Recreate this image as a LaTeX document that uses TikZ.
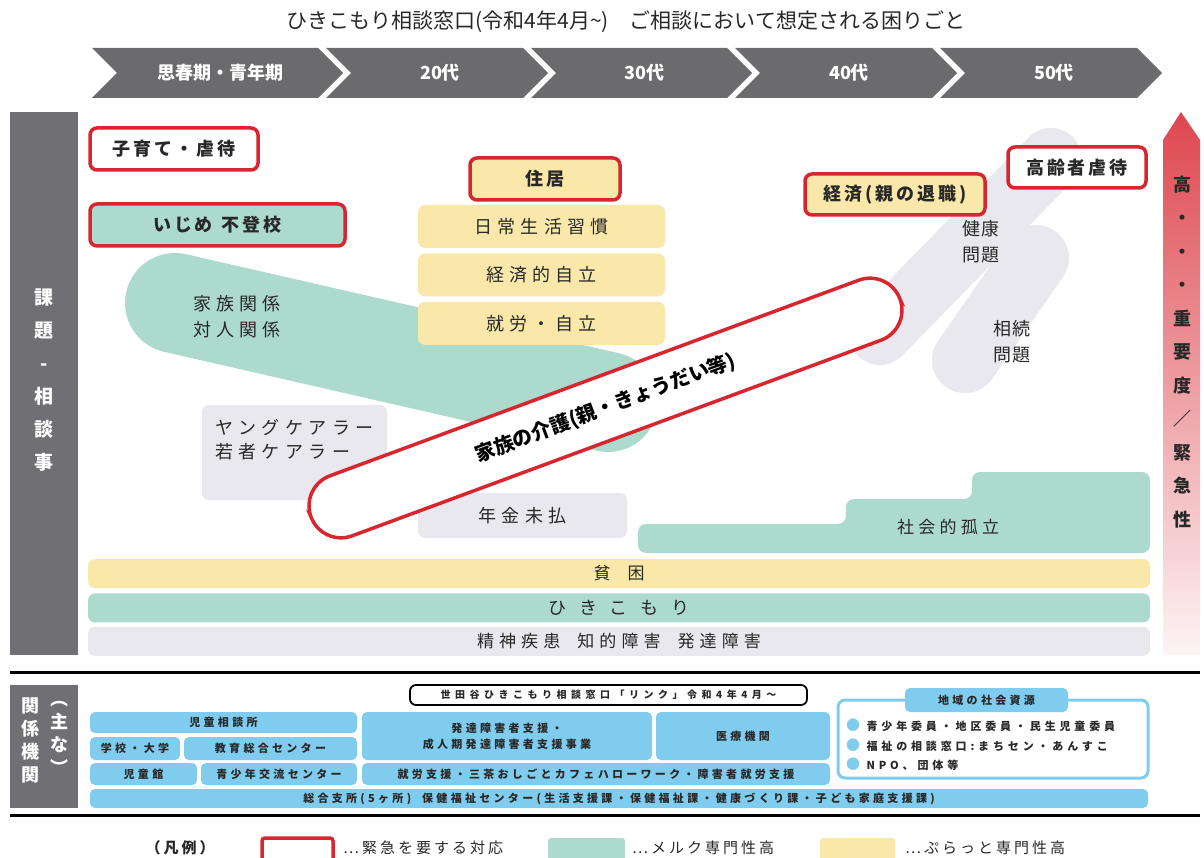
\documentclass[tikz,border=0pt]{standalone}
\usepackage{fontspec}
\setmainfont{Noto Sans CJK JP}
\usetikzlibrary{positioning}

\definecolor{chevgray}{RGB}{107,107,110}
\definecolor{bargray}{RGB}{112,112,116}
\definecolor{mint}{RGB}{172,218,204}
\definecolor{cream}{RGB}{249,232,170}
\definecolor{paleg}{RGB}{232,232,238}
\definecolor{alert}{RGB}{216,38,48}
\definecolor{sky}{RGB}{128,204,238}
\definecolor{ink}{RGB}{40,40,40}

\begin{document}
\begin{tikzpicture}[x=1pt,y=-1pt]
\tikzset{
  lbl/.style={inner sep=0pt,text=ink,font=\fontsize{18}{26}\selectfont\addfontfeature{LetterSpace=28}},
  tile/.style={rounded corners=7pt,inner sep=0pt,text=ink,font=\fontsize{18}{20}\selectfont\addfontfeature{LetterSpace=28}},
  alertbox/.style={tile,draw=alert,line width=3.5pt,font=\bfseries\fontsize{18}{20}\selectfont\addfontfeature{LetterSpace=16}},
  band/.style={rounded corners=7pt,inner sep=0pt,minimum width=1062pt,minimum height=29pt,text=ink,font=\fontsize{17}{20}\selectfont\addfontfeature{LetterSpace=30}},
  org/.style={fill=sky,rounded corners=5pt,inner sep=0pt,text=ink,font=\bfseries\fontsize{11}{16}\selectfont\addfontfeature{LetterSpace=30}},
  vtext/.style={inner sep=0pt,text=white,align=center,font=\bfseries\fontsize{19}{33}\selectfont},
  swatch/.style={minimum width=74pt,minimum height=24pt,rounded corners=3pt,inner sep=0pt}
}
\useasboundingbox (0,0) rectangle (1204,858);
\fill[white] (0,0) rectangle (1204,858);

% title and age steps
\node[inner sep=0pt,text=ink,font=\fontsize{21}{23}\selectfont] (title) at (626,22) {ひきこもり相談窓口(令和4年4月\textasciitilde)\quad ご相談において想定される困りごと};
\foreach \l/\r/\lab [count=\i] in {92/343/思春期・青年期,326/548/20代,531/752/30代,735/957/40代,940/1162/50代}{
  \fill[chevgray] (\l,48) -- (\r-25,48) -- (\r,73) -- (\r-25,98) -- (\l,98) -- (\l+25,73) -- cycle;
  \node[text=white,inner sep=0pt,font=\bfseries\fontsize{18}{20}\selectfont] (age\i) at ({(\l+\r)/2+3},73) {\lab};
}

% side bars
\fill[bargray] (10,112) rectangle (78,655);
\node[vtext] (issues) at (44,380) {課\\題\\-\\相\\談\\事};
\shade[top color=alert!85, bottom color=alert!5] (1163,140) -- (1181,112) -- (1200,140) -- (1200,655) -- (1163,655) -- cycle;
\node[inner sep=0pt,text=ink,align=center,font=\bfseries\fontsize{18}{33.5}\selectfont] (urgency) at (1182,352) {高\\・\\・\\・\\重\\要\\度\\／\\緊\\急\\性};

% diagonal bands
\coordinate (hl_a) at (880,334);
\coordinate (hl_b) at (1051,159);
\draw[paleg,line width=62pt,line cap=round] (hl_a) -- (hl_b);
\coordinate (ih_a) at (965,360);
\coordinate (ih_b) at (1036,258);
\draw[paleg,line width=66pt,line cap=round] (ih_a) -- (ih_b);
\node[lbl,align=center,font=\fontsize{18}{26}\selectfont\addfontfeature{LetterSpace=10}] (health) at (981,242) {健康\\問題};
\node[lbl,align=center,font=\fontsize{18}{26}\selectfont\addfontfeature{LetterSpace=10}] (inherit) at (1012,342) {相続\\問題};

\coordinate (fam_a) at (175,303);
\coordinate (fam_b) at (608,402);
\draw[mint,line width=100pt,line cap=round] (fam_a) -- (fam_b);
\node[lbl,align=left] (family) at (237,317) {家族関係\\対人関係};

% living
\node[tile,fill=cream,minimum width=247pt,minimum height=43pt] (habit) at (541.5,226.5) {日常生活習慣};
\node[tile,fill=cream,minimum width=247pt,minimum height=43pt,below=5pt of habit] (selfecon) {経済的自立};
\node[tile,fill=cream,minimum width=247pt,minimum height=43pt,below=5pt of selfecon] (work) {就労・自立};

\node[tile,fill=paleg,minimum width=185pt,minimum height=95pt] (youngcare) at (294.5,452.5) {};
\node[lbl,anchor=west,align=left,font=\fontsize{18}{24}\selectfont\addfontfeature{LetterSpace=30}] (youngtxt) at (215,440) {ヤングケアラー\\若者ケアラー};

\fill[mint,rounded corners=8pt] (638,553) -- (638,524) -- (846,524) -- (846,499) -- (972,499) -- (972,472) -- (1150,472) -- (1150,553) -- cycle;
\node[lbl,font=\fontsize{17}{20}\selectfont\addfontfeature{LetterSpace=25}] (isolation) at (948,527) {社会的孤立};

\node[tile,fill=paleg,minimum width=209pt,minimum height=45pt] (pension) at (522.5,515.5) {年金未払};

\node[draw=alert,fill=white,line width=3.5pt,rounded corners=32pt,minimum width=628pt,minimum height=64pt,rotate=20.3,inner sep=0pt,text=black,font=\bfseries\fontsize{20}{22}\selectfont] (carefam) at (605.5,408) {家族の介護(親・きょうだい等)};

% base bands
\node[band,fill=cream] (poverty) at (619,573.5) {貧\quad 困};
\node[band,fill=mint,below=5pt of poverty,font=\fontsize{18}{20}\selectfont\addfontfeature{LetterSpace=70}] (hikikomori) {ひきこもり};
\node[band,fill=paleg,below=4pt of hikikomori] (disorder) {精神疾患\quad 知的障害\quad 発達障害};

% urgent items
\node[alertbox,fill=white,minimum width=168pt,minimum height=42pt] (childcare) at (174,149) {子育て・虐待};
\node[alertbox,fill=mint,minimum width=255pt,minimum height=42pt] (bullying) at (217.5,225) {いじめ\enspace 不登校};
\node[alertbox,fill=cream,minimum width=150pt,minimum height=42pt] (housing) at (545,179) {住居};
\node[alertbox,fill=cream,minimum width=180pt,minimum height=41pt] (parentret) at (895,194.5) {経済(親の退職)};
\node[alertbox,fill=white,minimum width=138pt,minimum height=41pt] (elderabuse) at (1077,167.5) {高齢者虐待};

% related organisations
\draw[line width=3pt] (10,672) -- (1200,672);
\draw[line width=3pt] (10,815) -- (1200,815);
\fill[bargray] (10,685) rectangle (78,808);
\node[vtext,font=\bfseries\fontsize{18}{23}\selectfont] (orgs) at (30,740) {関\\係\\機\\関};
\node[vtext,font=\bfseries\fontsize{18}{23}\selectfont] (mainly) at (59,738) {︵\\主\\な\\︶};

\node[draw=black,line width=1.8pt,rounded corners=6pt,minimum width=397pt,minimum height=20pt,inner sep=0pt,text=ink,font=\bfseries\fontsize{10}{12}\selectfont\addfontfeature{LetterSpace=45}] (link) at (608.5,695) {世田谷ひきこもり相談窓口「リンク」令和4年4月〜};
\node[org,minimum width=267pt,minimum height=21pt] (jisou) at (223.5,722.5) {児童相談所};
\node[org,minimum width=90pt,minimum height=23pt] (school) at (135,748.5) {学校・大学};
\node[org,minimum width=173pt,minimum height=23pt] (educ) at (270.5,748.5) {教育総合センター};
\node[org,minimum width=107pt,minimum height=22pt] (kids) at (143.5,774) {児童館};
\node[org,minimum width=156pt,minimum height=22pt] (youth) at (279,774) {青少年交流センター};
\node[org,minimum width=290pt,minimum height=48pt,align=center] (devsup) at (507,736) {発達障害者支援・\\成人期発達障害者支援事業};
\node[org,minimum width=174pt,minimum height=48pt] (medical) at (743,736) {医療機関};
\node[org,minimum width=468pt,minimum height=22pt] (employ) at (596,774) {就労支援・三茶おしごとカフェハローワーク・障害者就労支援};
\node[org,minimum width=1058pt,minimum height=19pt] (branch) at (619,798.5) {総合支所(5ヶ所)\quad 保健福祉センター(生活支援課・保健福祉課・健康づくり課・子ども家庭支援課)};

\node[draw=sky,line width=3pt,fill=white,rounded corners=7pt,minimum width=310pt,minimum height=78pt,inner sep=0pt] (community) at (993,739) {};
\node[org,minimum width=163pt,minimum height=24pt] (commtitle) at (986.5,700) {地域の社会資源};
\node[org,fill=none,anchor=west,align=left,font=\bfseries\fontsize{11}{19.5}\selectfont\addfontfeature{LetterSpace=35}] (commlist) at (846,745) {{\fontsize{14}{14}\selectfont\textcolor{sky}{●}} 青少年委員・地区委員・民生児童委員\\{\fontsize{14}{14}\selectfont\textcolor{sky}{●}} 福祉の相談窓口:まちセン・あんすこ\\{\fontsize{14}{14}\selectfont\textcolor{sky}{●}} NPO、団体等};

% legend
\node[lbl,font=\bfseries\fontsize{15}{18}\selectfont\addfontfeature{LetterSpace=20}] (legend) at (180,848) {（凡例）};
\node[swatch,draw=alert,line width=3.5pt,fill=white,minimum width=71pt] (keyalert) at (297.5,850) {};
\node[lbl,anchor=west,font=\fontsize{15}{18}\selectfont\addfontfeature{LetterSpace=20}] (keyalerttxt) at (343,848) {…緊急を要する対応};
\node[swatch,fill=mint,minimum width=77pt] (keymint) at (586.5,850) {};
\node[lbl,anchor=west,font=\fontsize{15}{18}\selectfont\addfontfeature{LetterSpace=20}] (keyminttxt) at (632,848) {…メルク専門性高};
\node[swatch,fill=cream,minimum width=75pt] (keycream) at (857.5,850) {};
\node[lbl,anchor=west,font=\fontsize{15}{18}\selectfont\addfontfeature{LetterSpace=20}] (keycreamtxt) at (905,848) {…ぷらっと専門性高};
\end{tikzpicture}
\end{document}
